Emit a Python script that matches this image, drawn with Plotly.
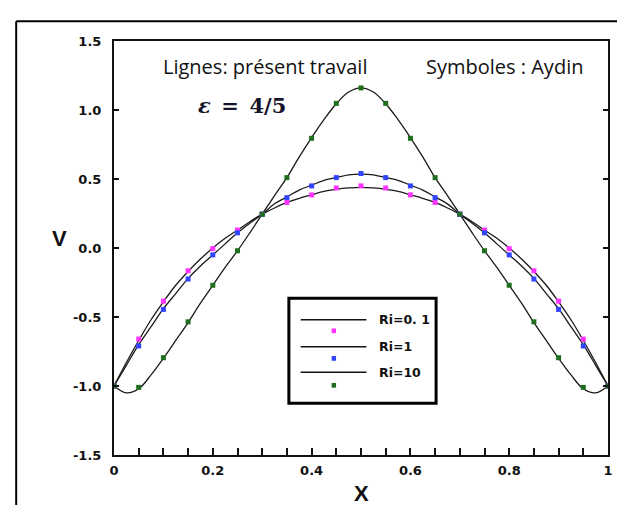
import plotly.graph_objects as go

# ---- data ----
x_line = [0.0, 0.025, 0.05, 0.075, 0.1, 0.125, 0.15, 0.175, 0.2, 0.225, 0.25, 0.275, 0.3,
          0.325, 0.35, 0.375, 0.4, 0.425, 0.45, 0.475, 0.5, 0.525, 0.55, 0.575, 0.6,
          0.625, 0.65, 0.675, 0.7, 0.725, 0.75, 0.775, 0.8, 0.825, 0.85, 0.875, 0.9,
          0.925, 0.95, 0.975, 1.0]
v_line_ri01 = [-1.0, -0.83, -0.67, -0.52, -0.39, -0.27, -0.17, -0.08, 0.0, 0.07, 0.13, 0.19, 0.245,
               0.29, 0.33, 0.36, 0.385, 0.41, 0.425, 0.435, 0.44, 0.435, 0.425, 0.41, 0.385,
               0.36, 0.33, 0.29, 0.245, 0.19, 0.13, 0.07, 0.0, -0.08, -0.17, -0.27, -0.39,
               -0.52, -0.67, -0.83, -1.0]
v_line_ri1 = [-1.0, -0.85, -0.70, -0.57, -0.44, -0.33, -0.22, -0.13, -0.05, 0.03, 0.11, 0.18, 0.245,
              0.32, 0.37, 0.42, 0.455, 0.49, 0.51, 0.53, 0.535, 0.53, 0.51, 0.49, 0.455,
              0.42, 0.37, 0.32, 0.245, 0.18, 0.11, 0.03, -0.05, -0.13, -0.22, -0.33, -0.44,
              -0.57, -0.70, -0.85, -1.0]
v_line_ri10 = [-1.0, -1.05, -1.02, -0.92, -0.80, -0.67, -0.54, -0.40, -0.27, -0.14, -0.02, 0.11, 0.245,
               0.38, 0.51, 0.66, 0.80, 0.93, 1.045, 1.13, 1.16, 1.13, 1.045, 0.93, 0.80,
               0.66, 0.51, 0.38, 0.245, 0.11, -0.02, -0.14, -0.27, -0.40, -0.54, -0.67, -0.80,
               -0.92, -1.02, -1.05, -1.0]

x_sym = [0.0, 0.05, 0.1, 0.15, 0.2, 0.25, 0.3, 0.35, 0.4, 0.45, 0.5,
         0.55, 0.6, 0.65, 0.7, 0.75, 0.8, 0.85, 0.9, 0.95, 1.0]
v_sym_ri01 = [-1.0, -0.66, -0.385, -0.165, -0.005, 0.13, 0.245, 0.33, 0.385, 0.435, 0.45,
              0.435, 0.385, 0.33, 0.245, 0.13, -0.005, -0.165, -0.385, -0.66, -1.0]
v_sym_ri1 = [-1.0, -0.71, -0.445, -0.225, -0.05, 0.11, 0.245, 0.365, 0.45, 0.51, 0.54,
             0.51, 0.45, 0.365, 0.245, 0.11, -0.05, -0.225, -0.445, -0.71, -1.0]
v_sym_ri10 = [-1.0, -1.01, -0.795, -0.535, -0.27, -0.02, 0.245, 0.51, 0.795, 1.048, 1.16,
              1.048, 0.795, 0.51, 0.245, -0.02, -0.27, -0.535, -0.795, -1.01, -1.0]

series_names = ["Ri=0. 1", "Ri=1", "Ri=10"]
sym_colors = ["#ff33ff", "#3344ff", "#1f6e1f"]

x_ticks = [0, 0.2, 0.4, 0.6, 0.8, 1]
x_ticklabels = ["0", "0.2", "0.4", "0.6", "0.8", "1"]
y_ticks = [-1.5, -1.0, -0.5, 0.0, 0.5, 1.0, 1.5]
y_ticklabels = ["-1.5", "-1.0", "-0.5", "0.0", "0.5", "1.0", "1.5"]

# ---- figure ----
fig = go.Figure()
for v in [v_line_ri01, v_line_ri1, v_line_ri10]:
    fig.add_trace(go.Scatter(x=x_line, y=v, mode="lines", line=dict(color="#1a1a1a", width=1.3, shape="spline"),
                             showlegend=False, hoverinfo="skip"))
for v, c in zip([v_sym_ri01, v_sym_ri1, v_sym_ri10], sym_colors):
    fig.add_trace(go.Scatter(x=x_sym, y=v, mode="markers",
                             marker=dict(symbol="square", size=5, color=c, line=dict(width=0)),
                             showlegend=False))

tickfont = dict(family="DejaVu Sans", size=13, color="#111", weight="bold")
fig.update_xaxes(range=[0, 1], tickvals=x_ticks, ticktext=x_ticklabels, ticks="inside", ticklen=7,
                 tickwidth=1.5, tickcolor="#111", showline=True, linewidth=2, linecolor="#111",
                 mirror=True, showgrid=False, zeroline=False, tickfont=tickfont, ticklabelstandoff=2,
                 minor=dict(dtick=0.05, ticks="inside", ticklen=7, tickwidth=1.5, tickcolor="#111", showgrid=False))
fig.update_yaxes(range=[-1.5, 1.5], tickvals=y_ticks, ticktext=y_ticklabels, ticks="inside", ticklen=5,
                 tickwidth=1.5, tickcolor="#111", showline=True, linewidth=2, linecolor="#111",
                 mirror="ticks", showgrid=False, zeroline=False, tickfont=tickfont, ticklabelstandoff=8)

shapes = []
# outer frame (left and top lines)
shapes.append(dict(type="line", xref="paper", yref="paper", x0=-0.198, y0=1.048, x1=-0.198, y1=-0.2,
                   line=dict(color="#000", width=2)))
shapes.append(dict(type="line", xref="paper", yref="paper", x0=-0.198, y0=1.048, x1=1.1, y1=1.048,
                   line=dict(color="#000", width=2)))
# custom legend box
shapes.append(dict(type="rect", xref="x", yref="y", x0=0.354, x1=0.652, y0=-1.125, y1=-0.365,
                   line=dict(color="#000", width=3), fillcolor="white", layer="above"))
leg_line_y = [-0.52, -0.715, -0.90]
leg_mark_y = [-0.60, -0.80, -0.995]
annotations = []
for name, c, ly, my in zip(series_names, sym_colors, leg_line_y, leg_mark_y):
    shapes.append(dict(type="line", xref="x", yref="y", x0=0.378, x1=0.511, y0=ly, y1=ly,
                       line=dict(color="#111", width=1.5), layer="above"))
    shapes.append(dict(type="rect", xref="x", yref="y", x0=0.4405, x1=0.4495, y0=my - 0.017, y1=my + 0.017,
                       fillcolor=c, line=dict(width=0), layer="above"))
    annotations.append(dict(x=0.532, y=ly, xref="x", yref="y", text="<b>" + name + "</b>", showarrow=False,
                            xanchor="left", yanchor="middle",
                            font=dict(family="DejaVu Sans", size=12.5, color="#111")))

annotations += [
    dict(x=0.305, y=1.315, xref="x", yref="y", text="Lignes: présent travail", showarrow=False,
         font=dict(family="Open Sans", size=20, color="#111"), xanchor="center", yanchor="middle"),
    dict(x=0.79, y=1.315, xref="x", yref="y", text="Symboles : Aydin", showarrow=False,
         font=dict(family="Open Sans", size=20, color="#111"), xanchor="center", yanchor="middle"),
    dict(x=0.166, y=1.03, xref="x", yref="y", text="<b><i>ε</i>\u2002=\u20024/5</b>", showarrow=False,
         font=dict(family="DejaVu Serif", size=21, color="#14142a"), xanchor="left", yanchor="middle"),
    dict(x=-0.111, y=0.068, xref="paper", yref="y", text="<b>V</b>", showarrow=False,
         font=dict(family="Liberation Sans", size=22, color="#111"), xanchor="center", yanchor="middle"),
    dict(x=0.5, y=-0.094, xref="x", yref="paper", text="<b>X</b>", showarrow=False,
         font=dict(family="Liberation Sans", size=22, color="#111"), xanchor="center", yanchor="middle"),
]

fig.update_layout(width=625, height=505, margin=dict(l=106, r=25, t=33, b=58),
                  plot_bgcolor="white", paper_bgcolor="white", showlegend=False,
                  shapes=shapes, annotations=annotations)

fig.write_html("out.html")
